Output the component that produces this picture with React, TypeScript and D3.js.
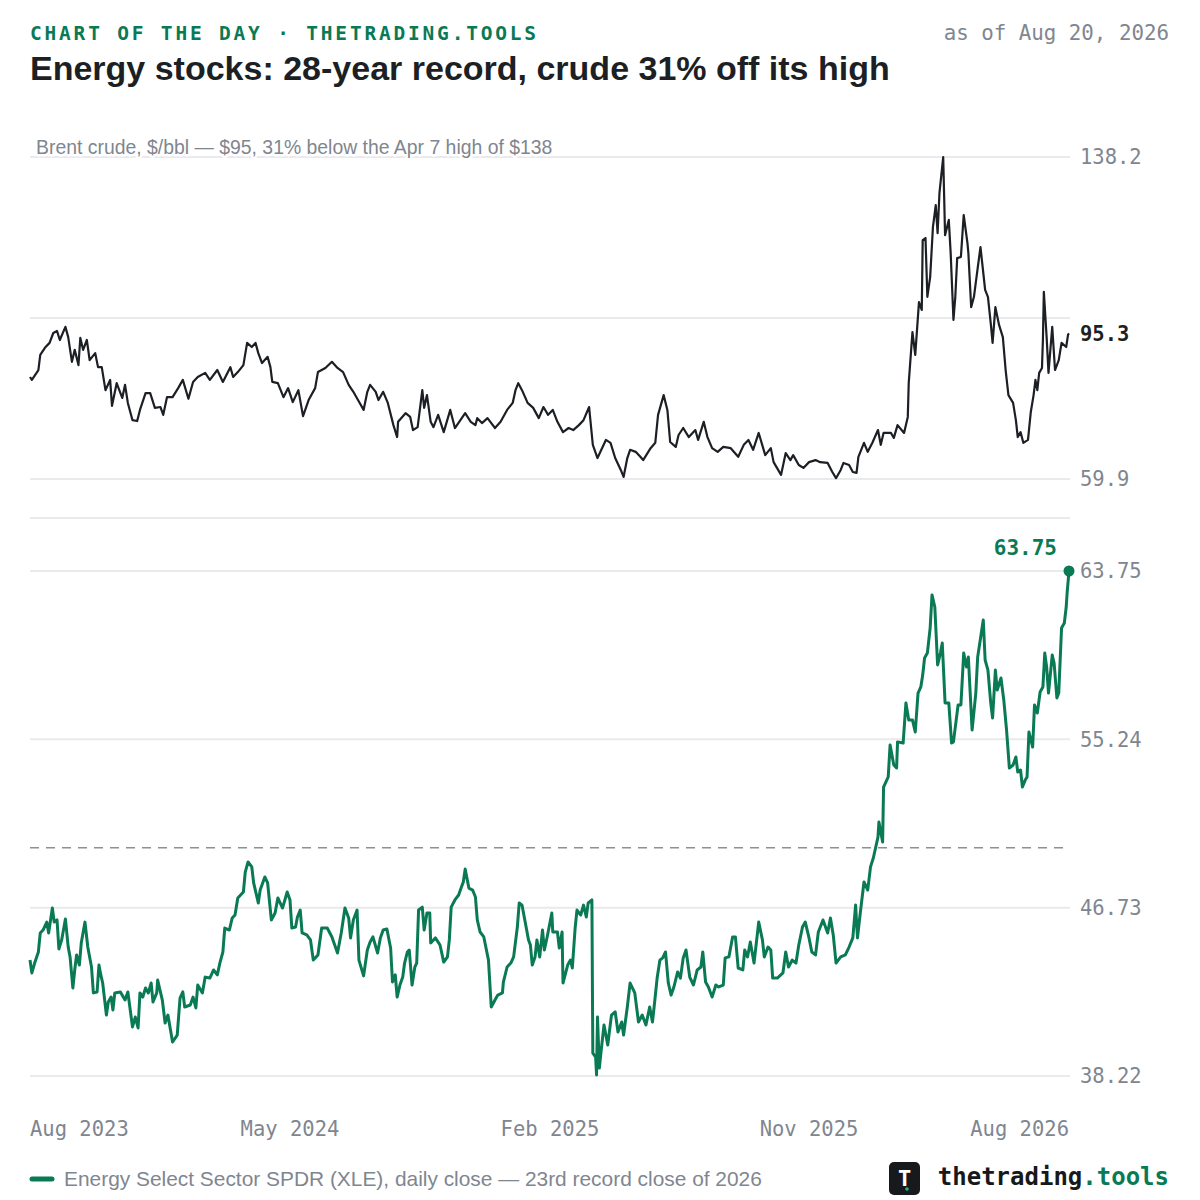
import React from 'react';
import * as d3 from 'd3';

// days since START, close
const START = new Date(2023, 7, 1);
const END_DAY = 1115;

const brentCloses: [number, number][] = [
  [0, 84.7], [2, 84.0], [9, 86.4], [11, 90.1], [16, 91.8], [21, 93.0], [25, 95.4], [29, 95.9], [32, 93.7], [38, 96.9],
  [41, 94.4], [45, 88.4], [48, 91.3], [52, 87.6], [54, 94.2], [57, 91.3], [61, 93.7], [64, 88.8], [70, 90.5], [73, 87.1],
  [77, 87.1], [81, 81.5], [86, 84.0], [88, 77.7], [93, 83.2], [99, 79.6], [102, 82.8], [105, 78.4], [110, 74.2], [115, 74.0],
  [118, 76.7], [124, 80.8], [129, 80.8], [134, 77.2], [140, 77.4], [143, 75.5], [147, 79.8], [153, 79.8], [159, 82.0], [164, 84.0],
  [170, 79.4], [175, 83.5], [180, 84.7], [188, 85.7], [193, 84.0], [201, 86.4], [207, 83.5], [215, 87.1], [218, 84.7], [223, 85.9],
  [229, 87.6], [233, 93.0], [238, 92.0], [242, 93.0], [245, 90.5], [249, 88.1], [255, 89.6], [258, 87.1], [260, 83.5], [266, 83.2],
  [272, 79.8], [277, 82.0], [282, 78.6], [288, 81.5], [293, 75.2], [299, 79.1], [306, 82.0], [309, 85.9], [317, 86.9], [324, 88.4],
  [330, 86.9], [336, 85.9], [342, 82.8], [347, 81.1], [352, 79.1], [358, 76.7], [362, 81.1], [365, 82.8], [371, 81.1], [374, 79.1],
  [379, 81.1], [384, 78.4], [390, 73.0], [394, 70.1], [395, 73.8], [403, 75.9], [408, 75.0], [411, 71.8], [416, 72.5], [421, 81.5],
  [423, 77.2], [426, 80.3], [430, 73.8], [433, 72.5], [438, 75.5], [444, 71.3], [451, 76.7], [456, 72.3], [467, 75.9], [473, 73.8],
  [478, 73.0], [480, 74.7], [485, 73.5], [491, 74.7], [494, 73.8], [499, 72.3], [505, 73.8], [512, 76.7], [518, 78.4], [521, 81.5],
  [524, 83.2], [528, 81.5], [534, 78.4], [540, 77.2], [546, 74.7], [551, 77.4], [556, 75.5], [561, 76.7], [566, 73.8], [572, 71.3],
  [578, 72.3], [583, 71.8], [589, 73.0], [594, 74.2], [600, 77.4], [604, 68.2], [609, 65.0], [618, 69.4], [623, 68.7], [628, 65.0],
  [634, 62.1], [637, 60.4], [641, 65.0], [644, 67.0], [650, 66.5], [655, 65.3], [658, 64.5], [666, 67.4], [671, 68.7], [674, 75.5],
  [680, 80.3], [684, 76.7], [687, 68.9], [693, 67.7], [696, 70.6], [701, 72.3], [707, 70.1], [714, 71.8], [717, 69.4], [723, 73.8],
  [727, 70.1], [732, 67.4], [738, 66.5], [744, 67.7], [752, 67.4], [760, 65.3], [766, 68.2], [771, 69.4], [776, 67.0], [782, 71.1],
  [789, 65.7], [795, 67.4], [798, 64.0], [806, 60.9], [811, 66.2], [816, 64.5], [819, 65.7], [825, 63.3], [830, 62.6], [836, 64.0],
  [843, 64.5], [848, 64.0], [856, 63.8], [861, 61.6], [865, 60.1], [870, 62.1], [873, 63.8], [879, 63.3], [883, 61.6], [887, 61.4],
  [889, 65.3], [895, 68.7], [899, 66.5], [904, 68.7], [910, 71.8], [913, 68.2], [916, 71.1], [924, 71.1], [927, 69.9], [931, 73.0],
  [938, 71.1], [942, 75.0], [943, 83.2], [947, 95.6], [950, 90.1], [954, 102.9], [957, 101.0], [958, 118.0], [961, 118.5], [963, 104.2],
  [966, 109.0], [969, 121.2], [972, 126.5], [974, 119.7], [976, 129.5], [980, 138.2], [982, 119.2], [986, 122.9], [988, 114.9], [991, 98.6],
  [993, 104.2], [995, 113.6], [999, 113.9], [1002, 124.1], [1006, 117.3], [1007, 114.9], [1010, 101.7], [1013, 104.2], [1017, 111.2], [1020, 116.3],
  [1025, 105.9], [1028, 104.2], [1031, 97.8], [1033, 93.0], [1036, 101.7], [1040, 97.3], [1044, 94.4], [1047, 86.4], [1050, 80.3], [1055, 78.4],
  [1058, 74.2], [1060, 70.1], [1063, 71.3], [1066, 68.7], [1071, 69.4], [1074, 76.2], [1077, 80.3], [1079, 84.0], [1081, 81.5], [1083, 85.7],
  [1086, 86.9], [1087, 93.7], [1088, 105.4], [1091, 94.4], [1093, 85.7], [1097, 96.9], [1100, 86.4], [1104, 88.8], [1107, 93.0], [1112, 92.0],
  [1114, 95.0], [1115, 95.3],
];

const xleCloses: [number, number][] = [
  [0, 44.08], [2, 43.43], [5, 43.93], [9, 44.49], [11, 45.45], [14, 45.6], [18, 46.0], [20, 45.45], [24, 46.71], [26, 46.0],
  [29, 46.11], [31, 44.64], [34, 45.1], [38, 46.16], [41, 44.74], [43, 44.24], [46, 42.67], [48, 43.58], [50, 44.34], [53, 43.83],
  [55, 44.94], [59, 46.0], [62, 44.74], [66, 43.73], [68, 42.42], [72, 42.47], [74, 43.83], [76, 43.33], [78, 42.92], [82, 41.3],
  [84, 41.96], [87, 42.21], [89, 41.56], [91, 42.42], [97, 42.47], [102, 42.06], [105, 42.47], [110, 40.7], [113, 41.2], [116, 40.65],
  [118, 42.42], [121, 42.21], [124, 42.67], [127, 42.42], [130, 42.92], [132, 41.96], [136, 42.42], [137, 43.07], [142, 42.06], [145, 40.9],
  [148, 41.3], [153, 39.94], [158, 40.29], [161, 42.16], [164, 42.47], [166, 41.71], [172, 41.81], [175, 42.21], [178, 41.66], [180, 42.82],
  [185, 42.42], [188, 43.22], [193, 43.17], [197, 43.58], [201, 43.33], [204, 43.98], [207, 44.49], [209, 45.7], [214, 45.6], [217, 46.21],
  [220, 46.36], [223, 47.22], [229, 47.52], [231, 48.53], [234, 49.04], [238, 48.79], [240, 47.98], [245, 46.97], [247, 47.62], [252, 48.28],
  [255, 47.98], [259, 46.11], [263, 46.46], [266, 47.22], [271, 46.71], [276, 47.52], [279, 47.12], [281, 45.7], [285, 45.75], [287, 46.26],
  [290, 46.61], [292, 45.45], [297, 45.35], [301, 45.1], [304, 44.08], [309, 44.34], [313, 45.7], [319, 45.7], [324, 45.25], [330, 44.44],
  [334, 45.45], [338, 46.71], [342, 46.21], [344, 45.2], [347, 46.11], [351, 46.61], [353, 44.08], [358, 43.28], [362, 44.59], [365, 44.99],
  [368, 45.25], [373, 44.44], [376, 45.2], [379, 45.6], [383, 45.65], [387, 44.69], [389, 42.97], [392, 43.33], [394, 42.21], [397, 42.82],
  [400, 43.22], [402, 43.93], [405, 44.49], [407, 44.59], [410, 42.82], [413, 43.73], [415, 43.93], [417, 46.61], [421, 46.76], [423, 45.6],
  [426, 46.46], [429, 46.46], [430, 44.94], [435, 45.2], [440, 44.84], [444, 43.98], [448, 44.24], [450, 45.1], [452, 46.76], [456, 47.12],
  [460, 47.37], [463, 47.77], [465, 48.03], [467, 48.68], [471, 47.72], [475, 47.62], [478, 47.27], [480, 46.11], [483, 45.5], [487, 45.25],
  [492, 44.08], [495, 41.71], [499, 42.06], [502, 42.31], [507, 42.42], [508, 42.97], [512, 43.73], [516, 43.93], [519, 44.24], [523, 45.75],
  [525, 46.97], [528, 46.86], [531, 46.11], [535, 45.1], [537, 44.84], [539, 43.83], [542, 44.24], [544, 45.1], [547, 44.24], [550, 45.6],
  [552, 44.59], [555, 45.25], [560, 46.46], [561, 45.5], [566, 45.5], [568, 44.69], [571, 45.5], [572, 42.92], [577, 43.83], [580, 44.08],
  [582, 43.68], [585, 45.7], [587, 46.61], [591, 46.36], [594, 46.86], [597, 46.26], [599, 46.97], [603, 47.12], [604, 39.38], [607, 39.18],
  [608, 38.27], [609, 41.2], [611, 38.62], [613, 39.53], [616, 40.8], [620, 39.79], [624, 41.3], [628, 41.46], [631, 40.44], [635, 40.95],
  [637, 40.29], [641, 41.71], [644, 42.92], [649, 42.42], [653, 40.95], [657, 41.3], [661, 40.8], [665, 41.71], [668, 40.95], [670, 41.81],
  [673, 43.17], [676, 44.08], [679, 44.19], [682, 44.49], [685, 42.92], [688, 42.31], [691, 42.72], [695, 43.48], [698, 43.17], [701, 44.19],
  [704, 44.59], [708, 43.22], [712, 42.82], [716, 43.58], [720, 43.73], [722, 44.49], [725, 42.97], [728, 42.72], [732, 42.21], [736, 42.82],
  [739, 42.72], [744, 42.82], [746, 44.19], [750, 44.24], [754, 45.25], [757, 45.25], [760, 43.68], [765, 43.58], [767, 44.59], [770, 44.24],
  [773, 44.99], [777, 43.93], [782, 46.0], [786, 45.1], [788, 44.24], [792, 44.74], [795, 44.59], [797, 43.17], [802, 43.17], [808, 43.43],
  [811, 44.49], [814, 43.73], [818, 44.08], [822, 43.93], [825, 44.84], [829, 45.75], [832, 46.0], [836, 45.2], [839, 44.49], [843, 44.34],
  [846, 45.5], [851, 46.11], [856, 45.45], [859, 46.21], [862, 45.35], [865, 43.93], [870, 44.24], [875, 44.34], [879, 44.74], [883, 45.2],
  [886, 46.86], [888, 45.2], [891, 46.46], [895, 48.03], [899, 47.62], [902, 48.79], [905, 49.24], [910, 50.3], [911, 51.06], [915, 50.05],
  [916, 52.83], [921, 53.34], [923, 54.95], [927, 53.94], [930, 53.79], [931, 55.11], [937, 55.05], [940, 57.08], [943, 56.22], [947, 56.22],
  [950, 55.61], [953, 57.58], [956, 57.89], [958, 58.49], [960, 59.35], [963, 59.6], [966, 60.87], [968, 62.54], [971, 61.93], [974, 59.0],
  [977, 59.6], [979, 60.11], [982, 57.08], [986, 57.08], [989, 55.05], [991, 55.11], [996, 56.98], [999, 56.98], [1002, 59.6], [1005, 58.9],
  [1007, 59.4], [1011, 55.71], [1015, 57.58], [1017, 59.4], [1023, 61.27], [1025, 59.25], [1028, 58.74], [1031, 57.08], [1033, 56.32], [1036, 58.74],
  [1038, 57.73], [1042, 58.34], [1045, 57.23], [1048, 55.71], [1051, 53.79], [1055, 53.94], [1058, 54.35], [1060, 53.59], [1063, 53.69], [1065, 52.83],
  [1068, 53.18], [1070, 53.34], [1072, 55.61], [1076, 54.85], [1078, 56.98], [1081, 56.57], [1084, 57.63], [1087, 57.89], [1089, 59.6], [1091, 58.9],
  [1093, 57.58], [1097, 59.5], [1099, 59.1], [1102, 57.33], [1104, 57.58], [1107, 60.87], [1110, 61.12], [1112, 61.93], [1113, 62.64], [1115, 63.75],
];

const brentGrid = [59.9, 99.05, 138.2];
const brentTickLabels = [59.9, 138.2];
const xleTicks = [38.22, 46.73, 55.24, 63.75];
const priorRecord = 49.76;
const xTickDates = ['2023-08-01', '2024-05-06', '2025-02-09', '2025-11-14', '2026-08-20'];

const GREEN = '#0a7a55';
const INK = '#1c1f24';
const GRAY = '#80868f';
const GRID = '#e9e9ee';
const MONO = '"DejaVu Sans Mono", monospace';
const SANS = '"Liberation Sans", Arial, sans-serif';

const App: React.FC = () => {
  const day = (d: number) => d3.timeDay.offset(START, d);
  const x = d3.scaleTime().domain([START, day(END_DAY)]).range([30, 1069]);
  const yTop = d3.scaleLinear().domain([59.9, 138.2]).range([479, 157]);
  const yBot = d3.scaleLinear().domain([38.22, 63.75]).range([1076, 571]);

  const brentLine = d3.line<[number, number]>()
    .x(d => x(day(d[0])))
    .y(d => yTop(d[1]));
  const xleLine = d3.line<[number, number]>()
    .x(d => x(day(d[0])))
    .y(d => yBot(d[1]));

  const lastBrent = brentCloses[brentCloses.length - 1];
  const lastXle = xleCloses[xleCloses.length - 1];
  const fmtMonth = d3.timeFormat('%b %Y');
  const parse = d3.timeParse('%Y-%m-%d');

  return (
    <svg width={1200} height={1200} style={{ position: 'absolute', left: 0, top: 0, background: '#fff' }}>
      <rect width={1200} height={1200} fill="#fff" />

      {/* header */}
      <text x={30} y={40} fill={GREEN} fontFamily={MONO} fontWeight="bold" fontSize={19.5} letterSpacing={2.8}>
        CHART OF THE DAY · THETRADING.TOOLS
      </text>
      <text x={1169} y={40} textAnchor="end" fill={GRAY} fontFamily={MONO} fontSize={20.8}>
        as of Aug 20, 2026
      </text>
      <text x={30} y={80} fill={INK} fontFamily={SANS} fontWeight="bold" fontSize={34}>
        Energy stocks: 28-year record, crude 31% off its high
      </text>

      {/* top panel: Brent */}
      {brentGrid.map(v => (
        <line key={v} x1={30} x2={1070} y1={yTop(v)} y2={yTop(v)} stroke={GRID} strokeWidth={2} />
      ))}
      <line x1={30} x2={1070} y1={518} y2={518} stroke={GRID} strokeWidth={2} />
      <text x={36} y={154} fill={GRAY} fontFamily={SANS} fontSize={19.4}
        stroke="#fff" strokeWidth={5} paintOrder="stroke" strokeLinejoin="round">
        Brent crude, $/bbl — $95, 31% below the Apr 7 high of $138
      </text>
      <path d={brentLine(brentCloses) ?? ''} fill="none" stroke={INK} strokeWidth={2.2} strokeLinejoin="round" />
      {brentTickLabels.map(v => (
        <text key={v} x={1080} y={yTop(v)} dy="0.35em" fill={GRAY} fontFamily={MONO} fontSize={20.5}>
          {v.toFixed(1)}
        </text>
      ))}
      <text x={1080} y={yTop(lastBrent[1])} dy="0.35em" fill={INK} fontFamily={MONO} fontWeight="bold" fontSize={20.5}>
        {lastBrent[1].toFixed(1)}
      </text>

      {/* bottom panel: XLE */}
      {xleTicks.map(v => (
        <g key={v}>
          <line x1={30} x2={1070} y1={yBot(v)} y2={yBot(v)} stroke={GRID} strokeWidth={2} />
          <text x={1080} y={yBot(v)} dy="0.35em" fill={GRAY} fontFamily={MONO} fontSize={20.5}>
            {v.toFixed(2)}
          </text>
        </g>
      ))}
      <line x1={30} x2={1063} y1={yBot(priorRecord)} y2={yBot(priorRecord)}
        stroke="#8a8f98" strokeWidth={1.5} strokeDasharray="9,7" />
      <path d={xleLine(xleCloses) ?? ''} fill="none" stroke={GREEN} strokeWidth={3} strokeLinejoin="round" />
      <circle cx={x(day(lastXle[0]))} cy={yBot(lastXle[1])} r={5.5} fill={GREEN} />
      <text x={1057} y={yBot(lastXle[1]) - 16} textAnchor="end" fill={GREEN} fontFamily={MONO}
        fontWeight="bold" fontSize={21}>
        {lastXle[1].toFixed(2)}
      </text>

      {/* x axis */}
      {xTickDates.map((s, i) => {
        const d = parse(s) as Date;
        const anchor = i === 0 ? 'start' : i === xTickDates.length - 1 ? 'end' : 'middle';
        return (
          <text key={s} x={x(d)} y={1136} textAnchor={anchor} fill={GRAY} fontFamily={MONO} fontSize={20.5}>
            {fmtMonth(d)}
          </text>
        );
      })}

      {/* legend */}
      <line x1={32} x2={52} y1={1179} y2={1179} stroke={GREEN} strokeWidth={5} strokeLinecap="round" />
      <text x={64} y={1186} fill={GRAY} fontFamily={SANS} fontSize={20.9}>
        Energy Select Sector SPDR (XLE), daily close — 23rd record close of 2026
      </text>

      {/* brand */}
      <rect x={889} y={1162} width={31} height={33} rx={5} fill="#17191c" />
      <text x={904.5} y={1186} textAnchor="middle" fill="#fff" fontFamily={MONO} fontWeight="bold" fontSize={22}>T</text>
      <circle cx={907} cy={1189} r={1.8} fill="#1fb57f" />
      <text x={1169} y={1185} textAnchor="end" fontFamily={MONO} fontWeight="bold" fontSize={24}>
        <tspan fill="#16181b">thetrading</tspan>
        <tspan fill={GREEN}>.tools</tspan>
      </text>
    </svg>
  );
};

export default App;
